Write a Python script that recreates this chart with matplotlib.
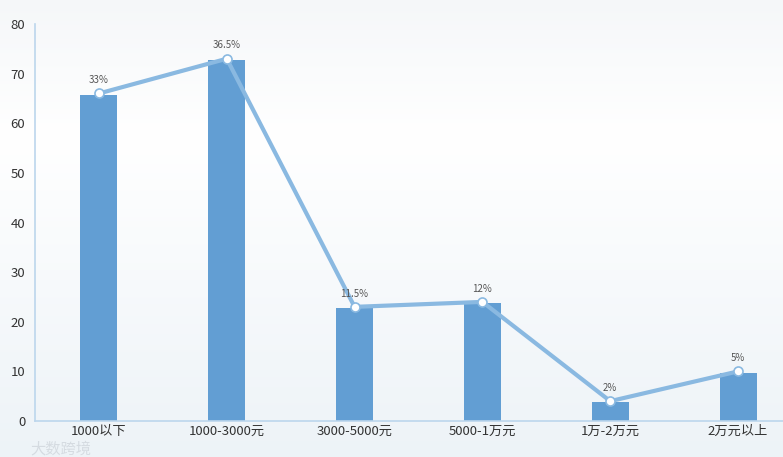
import matplotlib
matplotlib.use("Agg")
import matplotlib.pyplot as plt
import numpy as np

plt.rcParams['font.family'] = ['Noto Sans CJK SC', 'DejaVu Sans']

categories = ["1000以下", "1000-3000元", "3000-5000元", "5000-1万元", "1万-2万元", "2万元以上"]
bar_values = [65.7, 72.7, 22.8, 23.8, 3.8, 9.7]
line_values = [66, 73, 23, 24, 4, 10]
pct_labels = ["33%", "36.5%", "11.5%", "12%", "2%", "5%"]
yticks = [0, 10, 20, 30, 40, 50, 60, 70, 80]

W, H = 783, 457
fig = plt.figure(figsize=(W/100, H/100), dpi=100)

# background gradient
bg = fig.add_axes([0, 0, 1, 1], zorder=-10)
top = np.array([0.962, 0.970, 0.977])
mid = np.array([1.0, 1.0, 1.0])
bot = np.array([0.93, 0.953, 0.970])
t = np.linspace(0, 1, 200)[:, None]
grad = np.where(t < 0.3, top + (mid - top) * (t / 0.3), mid + (bot - mid) * ((t - 0.3) / 0.7))
img = np.repeat(grad[:, None, :], 2, axis=1)
bg.imshow(img, aspect='auto', extent=[0, 1, 0, 1], origin='upper')
bg.set_axis_off()

left = 35 / W
right = 802 / W
bottom = 1 - 421 / H
topp = 1 - 24 / H
ax = fig.add_axes([left, bottom, right - left, topp - bottom])
ax.patch.set_alpha(0)

x = np.arange(len(categories))
ax.bar(x, bar_values, width=0.29, color='#629ed3', zorder=2)
ax.plot(x, line_values, color='#8ab9e1', linewidth=3.0, zorder=3,
        marker='o', markersize=6.5, markerfacecolor='white',
        markeredgecolor='#8ab9e1', markeredgewidth=1.2)
for xi, v, lab in zip(x, line_values, pct_labels):
    ax.annotate(lab, (xi, v), xytext=(0, 6), textcoords='offset points',
                ha='center', va='bottom', fontsize=7, color='#555555', zorder=4)

ax.set_xlim(-0.5, len(categories) - 0.5)
ax.set_ylim(0, 80)
ax.set_yticks(yticks)
ax.set_xticks(x)
ax.set_xticklabels(categories)
ax.tick_params(axis='both', length=0, labelsize=9.5, colors='#333333')
ax.tick_params(axis='x', pad=3)
ax.tick_params(axis='y', pad=7)
for s in ['top', 'right']:
    ax.spines[s].set_visible(False)
for s in ['left', 'bottom']:
    ax.spines[s].set_color('#bcd6ec')
    ax.spines[s].set_linewidth(1.2)

# watermark
fig.text(30 / W, 1 - 449 / H, "大数跨境", fontsize=11, color='#d3d9df', va='center', ha='left',
         alpha=0.9, zorder=5)

fig.savefig("out.png", dpi=100)
